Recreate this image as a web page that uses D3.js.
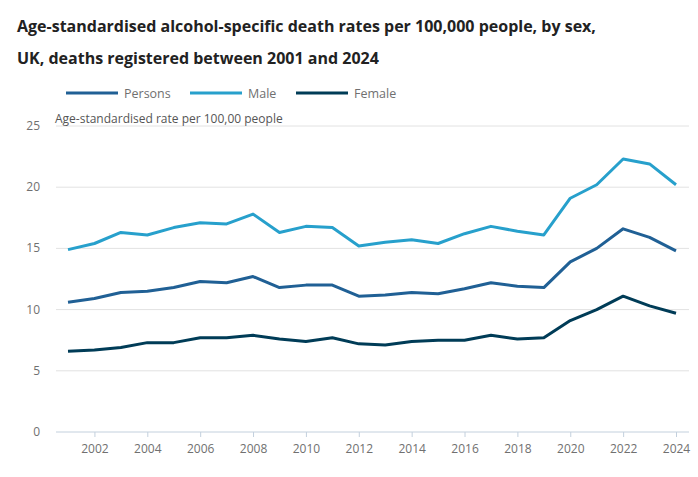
<!DOCTYPE html>
<html>
<head>
<meta charset="utf-8">
<script src="https://cdn.jsdelivr.net/npm/d3@7"></script>
<style>
  body { margin: 0; background: #fff; }
  text { font-family: "Open Sans", sans-serif; }
</style>
</head>
<body>
<div id="chart"></div>
<script>
const years = d3.range(2001, 2025);
const persons = [10.6, 10.9, 11.4, 11.5, 11.8, 12.3, 12.2, 12.7, 11.8, 12.0, 12.0, 11.1,
  11.2, 11.4, 11.3, 11.7, 12.2, 11.9, 11.8, 13.9, 15.0, 16.6, 15.9, 14.8];
const male = [14.9, 15.4, 16.3, 16.1, 16.7, 17.1, 17.0, 17.8, 16.3, 16.8, 16.7, 15.2,
  15.5, 15.7, 15.4, 16.2, 16.8, 16.4, 16.1, 19.1, 20.2, 22.3, 21.9, 20.2];
const female = [6.6, 6.7, 6.9, 7.3, 7.3, 7.7, 7.7, 7.9, 7.6, 7.4, 7.7, 7.2,
  7.1, 7.4, 7.5, 7.5, 7.9, 7.6, 7.7, 9.1, 10.0, 11.1, 10.3, 9.7];
const yTicks = [0, 5, 10, 15, 20, 25];
const xTicks = d3.range(2002, 2025, 2);

const series = [
  { name: 'Persons', values: persons, color: '#206095' },
  { name: 'Male', values: male, color: '#27a0cc' },
  { name: 'Female', values: female, color: '#003c57' }
];

const width = 698, height = 477;
const svg = d3.select('#chart').append('svg')
  .attr('width', width)
  .attr('height', height);

const x = d3.scaleLinear().domain([2001, 2024]).range([68, 676]);
const y = d3.scaleLinear().domain([0, 25]).range([432, 126]);

// title
svg.append('text')
  .attr('x', 17).attr('y', 32)
  .attr('font-size', '16px').attr('font-weight', 'bold').attr('fill', '#222')
  .text('Age-standardised alcohol-specific death rates per 100,000 people, by sex,');
svg.append('text')
  .attr('x', 17).attr('y', 64)
  .attr('font-size', '16px').attr('font-weight', 'bold').attr('fill', '#222')
  .text('UK, deaths registered between 2001 and 2024');

// legend
const legendX = [66, 190, 296];
series.forEach((s, i) => {
  const g = svg.append('g').attr('transform', `translate(${legendX[i]},93)`);
  g.append('line')
    .attr('x1', 0).attr('x2', 52)
    .attr('stroke', s.color).attr('stroke-width', 3);
  g.append('text')
    .attr('x', 58).attr('y', 5)
    .attr('font-size', '12.5px').attr('fill', '#707070')
    .text(s.name);
});

// gridlines + y labels
svg.append('g')
  .selectAll('line')
  .data(yTicks.filter(d => d > 0))
  .join('line')
  .attr('x1', 56).attr('x2', 689)
  .attr('y1', d => y(d)).attr('y2', d => y(d))
  .attr('stroke', '#e2e2e2').attr('stroke-width', 1);

svg.append('g')
  .selectAll('text')
  .data(yTicks)
  .join('text')
  .attr('x', 40).attr('y', d => y(d) + 4)
  .attr('text-anchor', 'end')
  .attr('font-size', '12px').attr('fill', '#707070')
  .text(d => d);

svg.append('text')
  .attr('x', 55).attr('y', 123)
  .attr('font-size', '12px').attr('fill', '#555')
  .text('Age-standardised rate per 100,00 people');

// x axis
const xAxis = svg.append('g')
  .attr('transform', `translate(0,${y(0)})`)
  .call(d3.axisBottom(x).tickValues(xTicks).tickFormat(d3.format('d')).tickSize(5).tickSizeOuter(0));
xAxis.select('.domain').remove();
xAxis.append('line')
  .attr('x1', 56).attr('x2', 689)
  .attr('stroke', '#c3d0dd');
xAxis.selectAll('.tick line').attr('stroke', '#c3d0dd');
xAxis.selectAll('.tick text')
  .attr('font-family', '"Open Sans", sans-serif')
  .attr('font-size', '12px').attr('fill', '#707070')
  .attr('dy', '1.1em');

// lines
const line = d3.line()
  .x((d, i) => x(years[i]))
  .y(d => y(d));

svg.append('g')
  .selectAll('path')
  .data(series)
  .join('path')
  .attr('d', d => line(d.values))
  .attr('fill', 'none')
  .attr('stroke', d => d.color)
  .attr('stroke-width', 3)
  .attr('stroke-linejoin', 'round');
</script>
</body>
</html>
